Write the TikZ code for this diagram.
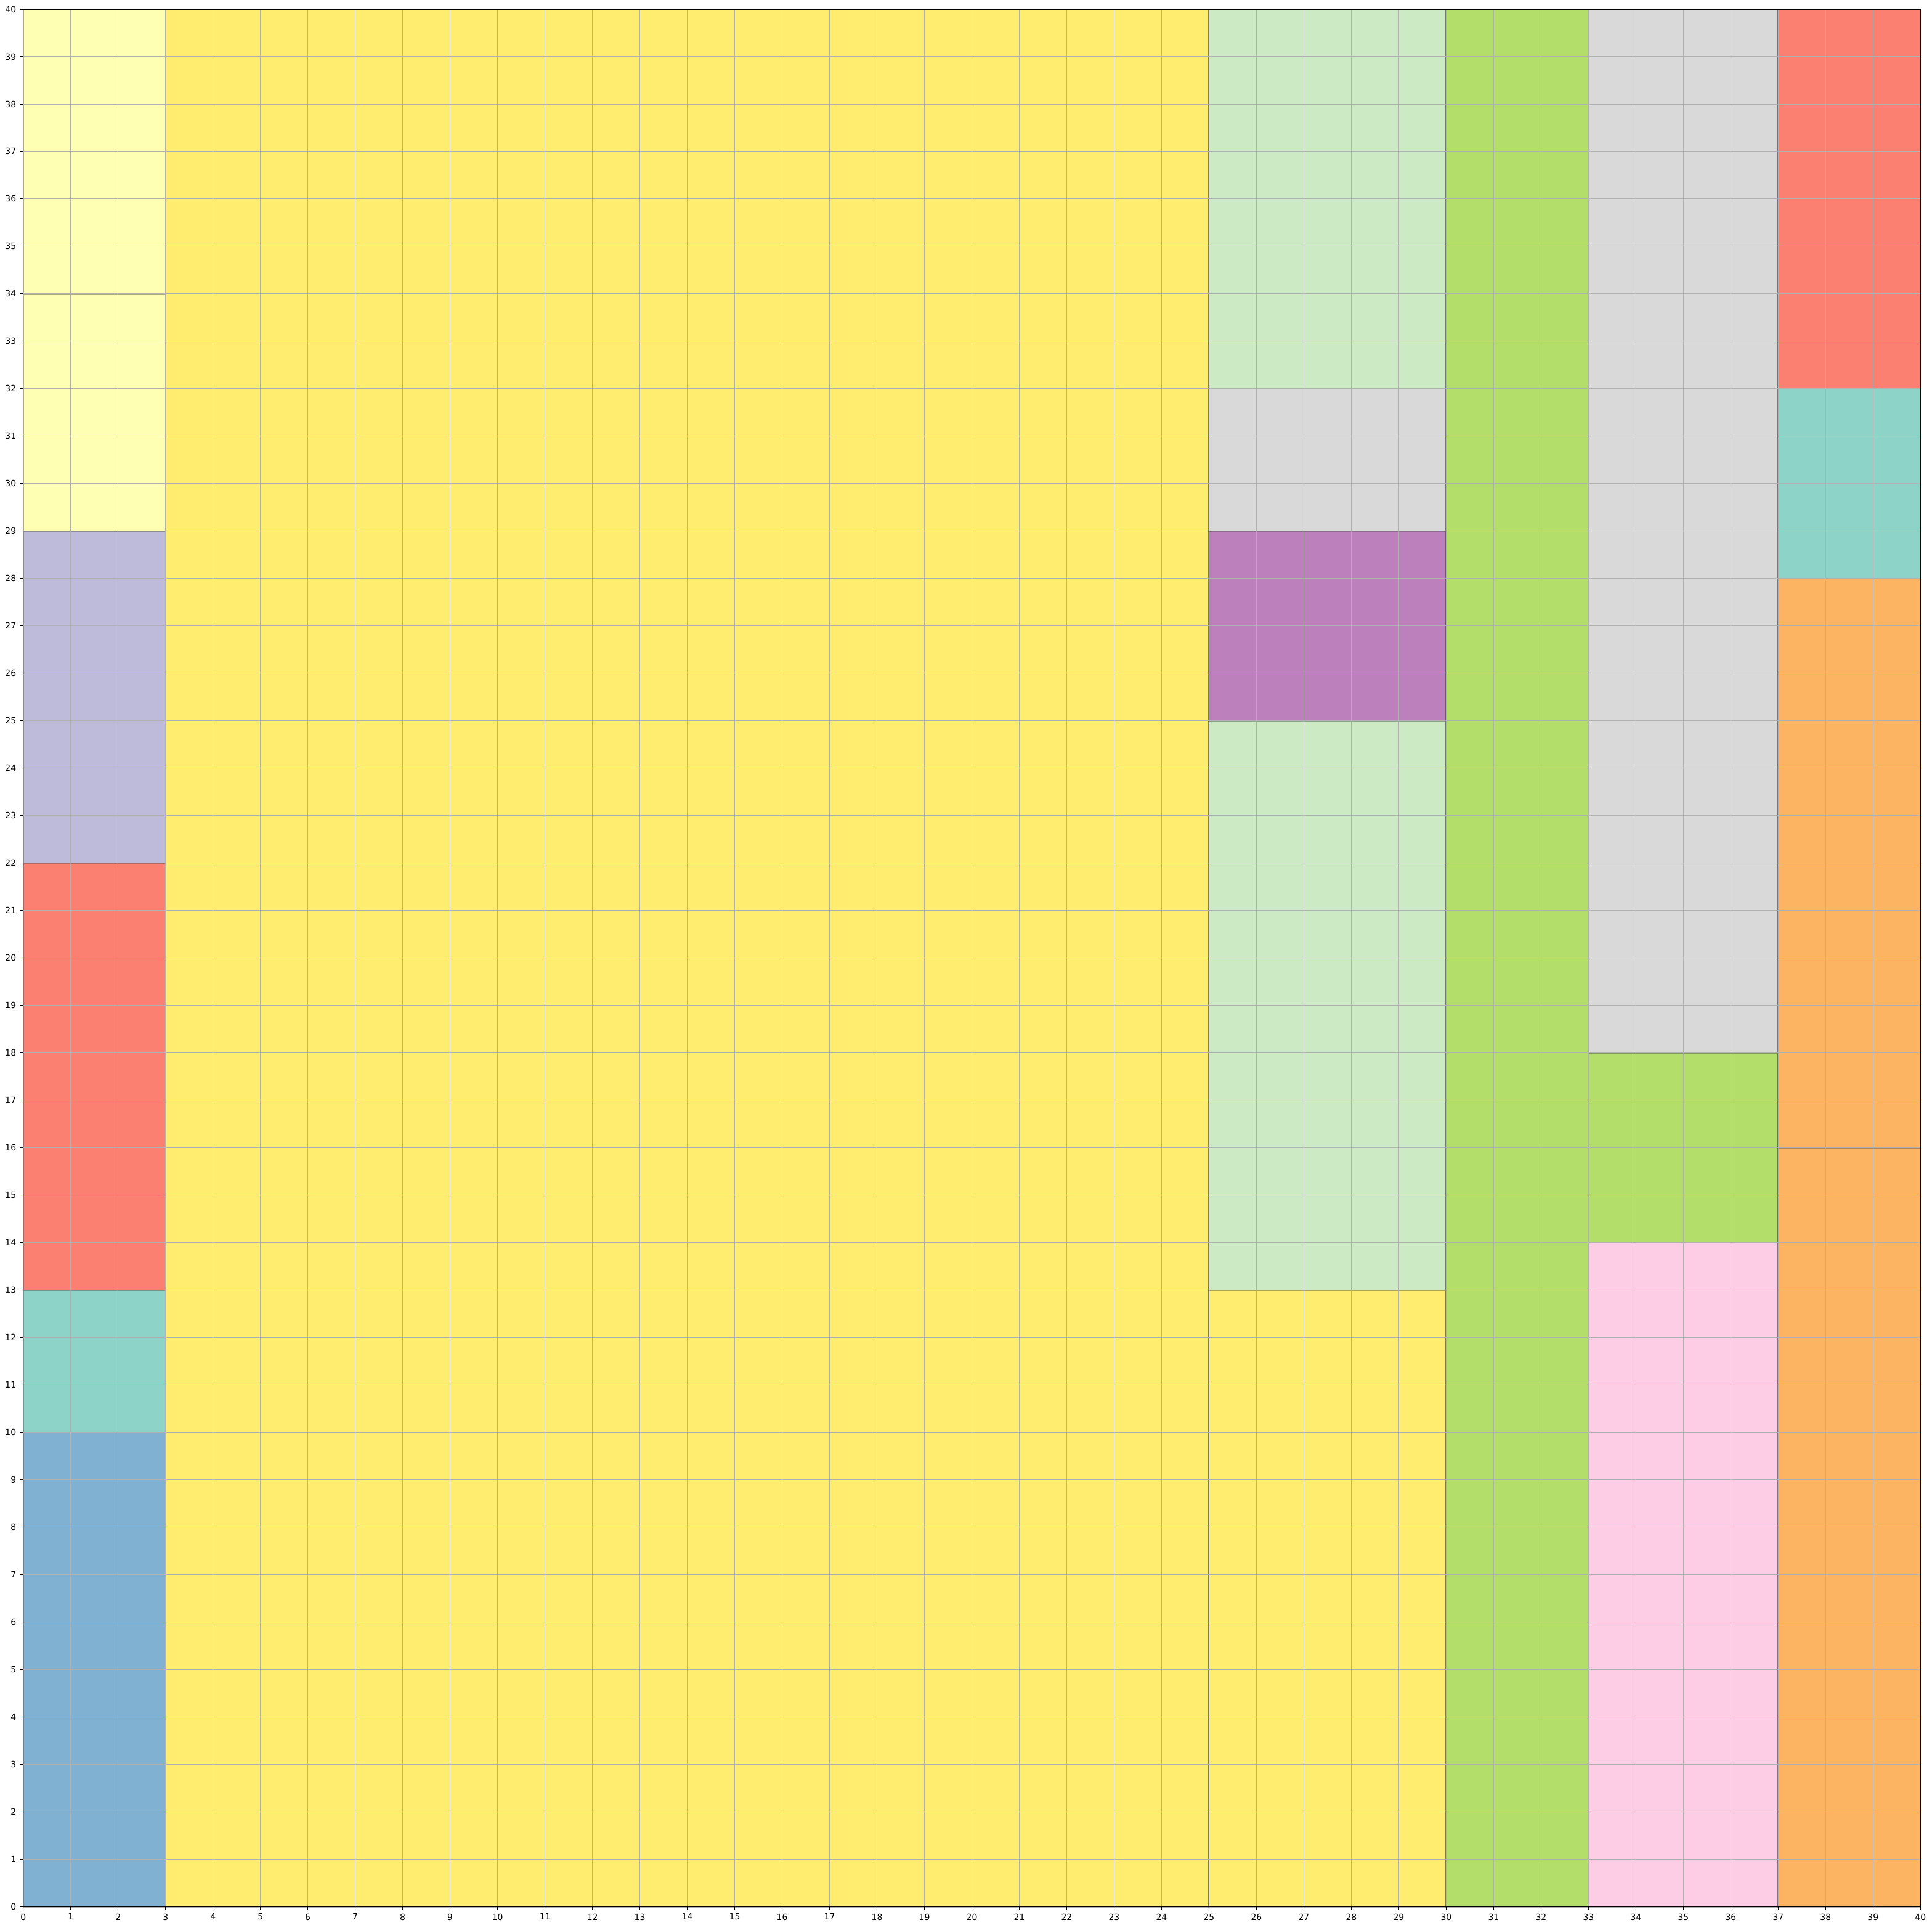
\documentclass[tikz,border=0pt]{standalone}
\usepackage{fontspec}
\setmainfont{DejaVu Sans}
\definecolor{cTeal}{HTML}{8DD3C7}
\definecolor{cLY}{HTML}{FFFFB3}
\definecolor{cLav}{HTML}{BEBADA}
\definecolor{cSal}{HTML}{FB8072}
\definecolor{cBlue}{HTML}{80B1D3}
\definecolor{cOra}{HTML}{FDB462}
\definecolor{cGrn}{HTML}{B3DE69}
\definecolor{cPink}{HTML}{FCCDE5}
\definecolor{cGray}{HTML}{D9D9D9}
\definecolor{cPur}{HTML}{BC80BD}
\definecolor{cLG}{HTML}{CCEBC5}
\definecolor{cYel}{HTML}{FFED6F}
\definecolor{gridc}{HTML}{B0B0B0}
\begin{document}
\begin{tikzpicture}[x=1cm,y=1cm,
  blk/.style={fill=#1, draw=black!70, draw opacity=0.45, line width=0.74pt},
  gridline/.style={draw=gridc, line width=0.41pt},
  spine/.style={draw=black, line width=0.41pt},
  tickmark/.style={draw=black, line width=0.41pt},
  ticklab/.style={inner sep=0pt, font=\fontsize{5.14pt}{6pt}\selectfont}]
\useasboundingbox (-0.490,-0.4416) rectangle (40.243,40.195);
% column 0-3
\path[blk=cLY] (0,34) rectangle (3,40);
\path[blk=cLY] (0,29) rectangle (3,34);
\path[blk=cLav] (0,22) rectangle (3,29);
\path[blk=cSal] (0,13) rectangle (3,22);
\path[blk=cTeal] (0,10) rectangle (3,13);
\path[blk=cBlue] (0,0) rectangle (3,10);
% big block
\path[blk=cYel] (3,0) rectangle (25,40);
% column 25-30
\path[blk=cLG] (25,32) rectangle (30,40);
\path[blk=cGray] (25,29) rectangle (30,32);
\path[blk=cPur] (25,25) rectangle (30,29);
\path[blk=cLG] (25,13) rectangle (30,25);
\path[blk=cYel] (25,0) rectangle (30,13);
% column 30-33
\path[blk=cGrn] (30,0) rectangle (33,40);
% column 33-37
\path[blk=cGray] (33,18) rectangle (37,40);
\path[blk=cGrn] (33,14) rectangle (37,18);
\path[blk=cPink] (33,0) rectangle (37,14);
% column 37-40
\path[blk=cSal] (37,32) rectangle (40,40);
\path[blk=cTeal] (37,28) rectangle (40,32);
\path[blk=cOra] (37,16) rectangle (40,28);
\path[blk=cOra] (37,0) rectangle (40,16);
% grid
\foreach \i in {1,...,39} {
  \draw[gridline] (\i,0) -- (\i,40);
  \draw[gridline] (0,\i) -- (40,\i);
}
% spines
\draw[spine] (0,0) rectangle (40,40);
% ticks and labels
\foreach \i in {0,...,40} {
  \draw[tickmark] (\i,0) -- (\i,-0.064);
  \node[ticklab, anchor=north] (xl\i) at (\i,-0.139) {\i};
  \draw[tickmark] (0,\i) -- (-0.064,\i);
  \node[ticklab, anchor=east] (yl\i) at (-0.143,\i) {\i};
}
\end{tikzpicture}
\end{document}
